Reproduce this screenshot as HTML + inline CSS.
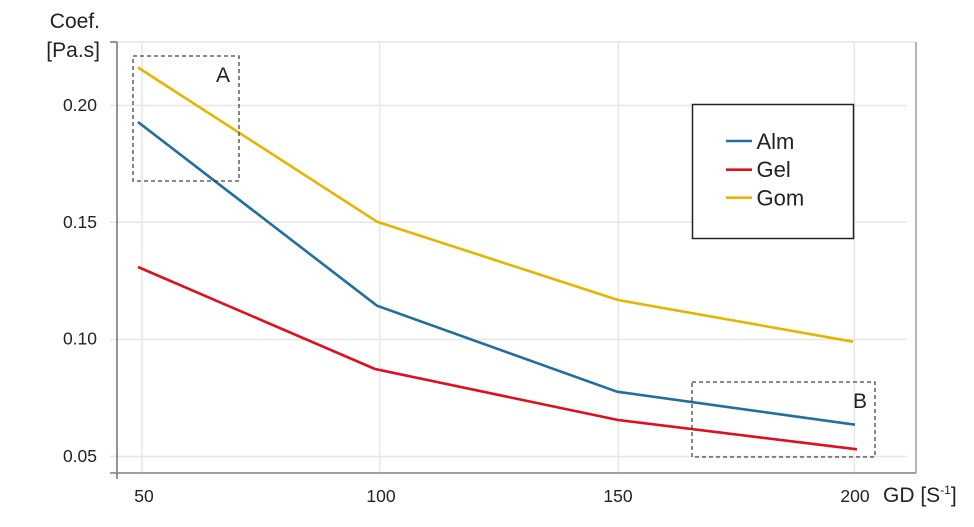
<!DOCTYPE html>
<html><head><meta charset="utf-8"><style>
html,body{margin:0;padding:0;background:#fff;}
svg{display:block;font-family:"Liberation Sans",sans-serif;}
</style></head><body>
<svg width="974" height="527" viewBox="0 0 974 527" xmlns="http://www.w3.org/2000/svg">
<rect width="974" height="527" fill="#fff"/>
<!-- grid -->
<g stroke="#e6e6e6" stroke-width="1.5" fill="none">
<line x1="117" y1="42" x2="915" y2="42"/>
<line x1="110" y1="105.5" x2="907" y2="105.5"/>
<line x1="110" y1="222.3" x2="907" y2="222.3"/>
<line x1="110" y1="339.5" x2="907" y2="339.5"/>
<line x1="110" y1="456.5" x2="907" y2="456.5"/>
<line x1="142" y1="42" x2="142" y2="473"/>
<line x1="379.7" y1="42" x2="379.7" y2="473"/>
<line x1="618.3" y1="42" x2="618.3" y2="473"/>
<line x1="854.3" y1="42" x2="854.3" y2="473"/>
</g>
<!-- axes -->
<line x1="916" y1="42" x2="916" y2="473" stroke="#b5b5b5" stroke-width="2"/>
<line x1="117" y1="42" x2="117" y2="479" stroke="#707070" stroke-width="1.5"/>
<line x1="110" y1="42" x2="117" y2="42" stroke="#707070" stroke-width="1.5"/>
<line x1="110" y1="473" x2="916" y2="473" stroke="#808080" stroke-width="1.5"/>
<!-- series -->
<g fill="none" stroke-width="2.6" stroke-linejoin="round">
<polyline stroke="#e5b500" points="138,67.5 377,221.7 618,300 853,341.7"/>
<polyline stroke="#1f6fa0" points="138,122 377,305.7 617,391.7 855,424.7"/>
<polyline stroke="#de1020" points="138,267 375,369 618,420 857,449.3"/>
</g>
<!-- dashed boxes -->
<g fill="none" stroke="#444" stroke-width="1.3" stroke-dasharray="4 3">
<rect x="133" y="56" width="106" height="125"/>
<rect x="692" y="382" width="183" height="75"/>
</g>
<g fill="#222" font-size="21">
<text x="216" y="82">A</text>
<text x="853" y="408">B</text>
</g>
<!-- legend -->
<rect x="692.5" y="104.5" width="161" height="134" fill="#fff" stroke="#222" stroke-width="1.5"/>
<g stroke-width="2.6">
<line x1="726" y1="141" x2="752" y2="141" stroke="#1f6fa0"/>
<line x1="726" y1="169.7" x2="752" y2="169.7" stroke="#de1020"/>
<line x1="726" y1="197.7" x2="752" y2="197.7" stroke="#e5b500"/>
</g>
<g fill="#222" font-size="22">
<text x="756.5" y="149">Alm</text>
<text x="756.5" y="177">Gel</text>
<text x="756.5" y="205.5">Gom</text>
</g>
<!-- tick labels -->
<g fill="#222" font-size="17.5" text-anchor="end">
<text x="97" y="111">0.20</text>
<text x="97" y="228">0.15</text>
<text x="97" y="344.5">0.10</text>
<text x="97" y="462">0.05</text>
</g>
<g fill="#222" font-size="17.5" text-anchor="middle">
<text x="144" y="502">50</text>
<text x="381" y="502">100</text>
<text x="618" y="502">150</text>
<text x="855" y="502">200</text>
</g>
<!-- axis titles -->
<g fill="#222" font-size="21" text-anchor="end">
<text x="100" y="28">Coef.</text>
<text x="100" y="57">[Pa.s]</text>
</g>
<text x="883" y="502" fill="#222" font-size="21">GD [S<tspan font-size="12" dy="-8">-1</tspan><tspan dy="8">]</tspan></text>
</svg>
</body></html>
